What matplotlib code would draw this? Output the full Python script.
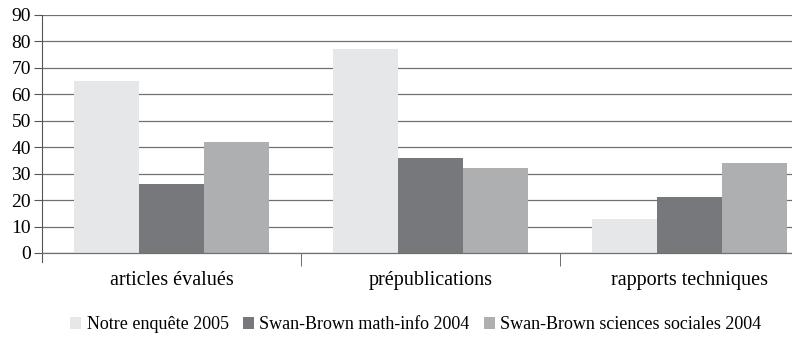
import numpy as np
import matplotlib.pyplot as plt

categories = ["articles évalués", "prépublications", "rapports techniques"]
series_names = ["Notre enquête 2005", "Swan-Brown math-info 2004",
                "Swan-Brown sciences sociales 2004"]
notre_2005 = [65, 77, 13]
math_info_2004 = [26, 36, 21]
sciences_sociales_2004 = [42, 32, 34]
colors = ["#e6e7e9", "#77787b", "#aeafb1"]

plt.rcParams['font.family'] = ['Liberation Serif', 'DejaVu Serif']

fig = plt.figure(figsize=(7.92, 3.40), dpi=100)
# axes run slightly past the right edge, as in the original
ax = fig.add_axes([0.053, 0.256, 0.981, 0.70])

x = np.arange(len(categories)) + 0.5
w = 0.25
for i, (vals, name) in enumerate(zip([notre_2005, math_info_2004, sciences_sociales_2004], series_names)):
    ax.bar(x + (i - 1) * w, vals, width=w, color=colors[i], label=name, zorder=3)

ax.set_xlim(0, 3)
ax.set_ylim(0, 90)
ax.set_yticks(np.arange(0, 91, 10))
ax.yaxis.grid(True, color="#707070", linewidth=0.9, zorder=0)
ax.set_axisbelow(True)
for s in ["top", "right", "bottom"]:
    ax.spines[s].set_visible(False)
ax.spines["left"].set_color("#555555")
ax.spines["left"].set_bounds(-3.5, 90)
ax.tick_params(axis="y", length=6, color="#555555", labelsize=14, pad=2)

ax.set_xticks(x)
ax.set_xticklabels(categories, fontsize=14.5)
ax.tick_params(axis="x", length=0, pad=13)
ax.set_xticks([1, 2], minor=True)
ax.tick_params(axis="x", which="minor", length=9, color="#555555")
ax.axhline(0, color="#707070", linewidth=0.9, zorder=4, clip_on=False)

fig.legend(loc="center", bbox_to_anchor=(0.525, 0.045), ncol=3, frameon=False,
           fontsize=13, handlelength=0.6, handleheight=0.6, handletextpad=0.3,
           columnspacing=0.8)

fig.savefig("out.png", dpi=100)
